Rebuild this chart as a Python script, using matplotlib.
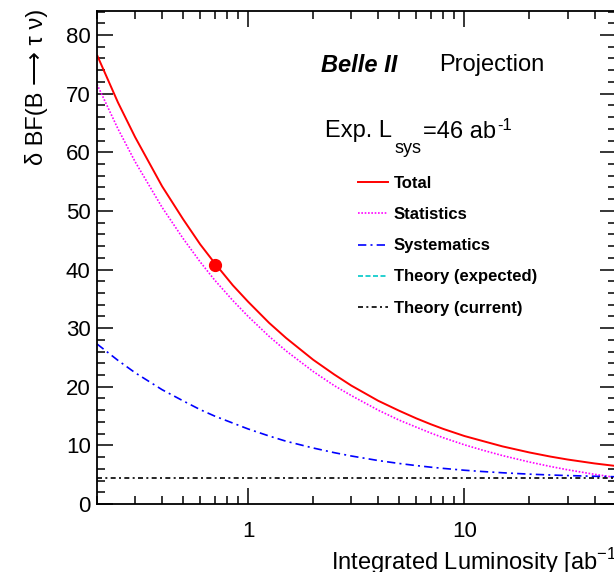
import numpy as np
import matplotlib
matplotlib.use("Agg")
import matplotlib.pyplot as plt
from matplotlib.lines import Line2D

# --- данные ---
lumi = [0.2, 0.25, 0.3, 0.4, 0.5, 0.6, 0.7, 0.85, 1, 1.25, 1.5, 2, 2.5, 3, 4, 5,
        6, 7, 8, 10, 12, 15, 20, 25, 30, 40, 50]
total = [76.6, 68.5, 62.6, 54.2, 48.6, 44.3, 41.1, 37.3, 34.5, 30.9, 28.3, 24.6,
         22.1, 20.2, 17.6, 15.9, 14.6, 13.6, 12.8, 11.6, 10.8, 9.83, 8.79, 8.09,
         7.59, 6.92, 6.49]
stat = [71.6, 64.0, 58.4, 50.6, 45.3, 41.3, 38.2, 34.7, 32.0, 28.6, 26.1, 22.6,
        20.2, 18.5, 16.0, 14.3, 13.1, 12.1, 11.3, 10.1, 9.24, 8.26, 7.16, 6.40,
        5.84, 5.06, 4.53]
syst = [27.3, 24.5, 22.4, 19.5, 17.6, 16.1, 15.0, 13.8, 12.8, 11.6, 10.7, 9.55,
        8.76, 8.19, 7.41, 6.91, 6.55, 6.28, 6.07, 5.76, 5.55, 5.33, 5.09, 4.95,
        4.85, 4.73, 4.65]
theory_current = 4.4
point_lumi = [0.7]
point_val = [40.8]

W, H = 614, 572
plt.rcParams['font.family'] = ['Liberation Sans', 'DejaVu Sans']
plt.rcParams['mathtext.fontset'] = 'custom'
plt.rcParams['mathtext.rm'] = 'Liberation Sans'

fig = plt.figure(figsize=(W / 100, H / 100), dpi=100)
ax = fig.add_axes([97 / W, (H - 504) / H, (615.5 - 97) / W, (504 - 11) / H])

ax.plot(lumi, total, color='#ff0000', lw=1.4, solid_capstyle='butt')
ax.plot(lumi, stat, color='#ff00ff', lw=1.2, linestyle=(0, (1, 1)))
ax.plot(lumi, syst, color='#0000ff', lw=1.2, linestyle=(0, (5, 2.5, 1.2, 2.5)))
ax.axhline(theory_current, color='black', lw=1.2, linestyle=(0, (3, 2, 1.2, 2)))
ax.plot(point_lumi, point_val, 'o', color='#ff0000', ms=8.5)

ax.set_xscale('log')
ax.set_xlim(0.2, 50)
ax.set_ylim(0, 84.1)
ax.set_yticks(np.arange(0, 81, 10))
ax.set_yticks(np.arange(0, 85, 2), minor=True)
ax.set_xticks([1, 10])
ax.set_xticklabels(['1', '10'])
ax.xaxis.set_minor_locator(matplotlib.ticker.LogLocator(base=10, subs=np.arange(2, 10)))
ax.xaxis.set_minor_formatter(matplotlib.ticker.NullFormatter())

ax.tick_params(which='both', direction='in', top=True, right=True, width=1.1)
ax.tick_params(which='major', length=11.3, labelsize=16)
ax.tick_params(which='minor', length=5.8)
ax.tick_params(axis='y', which='major', pad=4.5)
ax.tick_params(axis='x', which='major', pad=12.5)
for s in ax.spines.values():
    s.set_linewidth(1.3)


def ftxt(x, y, s, **kw):
    fig.text(x / W, 1 - y / H, s, **kw)


ftxt(37, 9, 'δ BF(B ⟶ τ ν)', rotation=90, ha='center', va='top', fontsize=17)
ftxt(331, 562, 'Integrated Luminosity [ab$^{-1}$]', ha='left', va='center', fontsize=17)

ftxt(321, 65, 'Belle II', ha='left', va='center', fontsize=17,
     fontweight='bold', fontstyle='italic')
ftxt(439.5, 65, 'Projection', ha='left', va='center', fontsize=17)

ftxt(325, 137.5, 'Exp. L', ha='left', va='baseline', fontsize=17)
ftxt(395, 153, 'sys', ha='left', va='baseline', fontsize=13)
ftxt(423, 137.5, '=46 ab', ha='left', va='baseline', fontsize=17)
ftxt(497, 130.5, '-1', ha='left', va='baseline', fontsize=12)

handles = [
    Line2D([], [], color='#ff0000', lw=1.4),
    Line2D([], [], color='#ff00ff', lw=1.2, linestyle=(0, (1, 1))),
    Line2D([], [], color='#0000ff', lw=1.2, linestyle=(0, (5, 2.5, 1.2, 2.5))),
    Line2D([], [], color='#00c8c8', lw=1.2, linestyle=(0, (3, 1.5))),
    Line2D([], [], color='black', lw=1.2, linestyle=(0, (3, 2, 1.2, 2))),
]
labels = ['Total', 'Statistics', 'Systematics', 'Theory (expected)', 'Theory (current)']
ax.legend(handles, labels, loc='upper left', bbox_to_anchor=(358 / W, 1 - 176 / H),
          bbox_transform=fig.transFigure, frameon=False, borderpad=0, borderaxespad=0,
          handlelength=1.8, handletextpad=0.36, labelspacing=0.97,
          prop={'weight': 'bold', 'size': 12})

fig.savefig('out.png', dpi=100)
